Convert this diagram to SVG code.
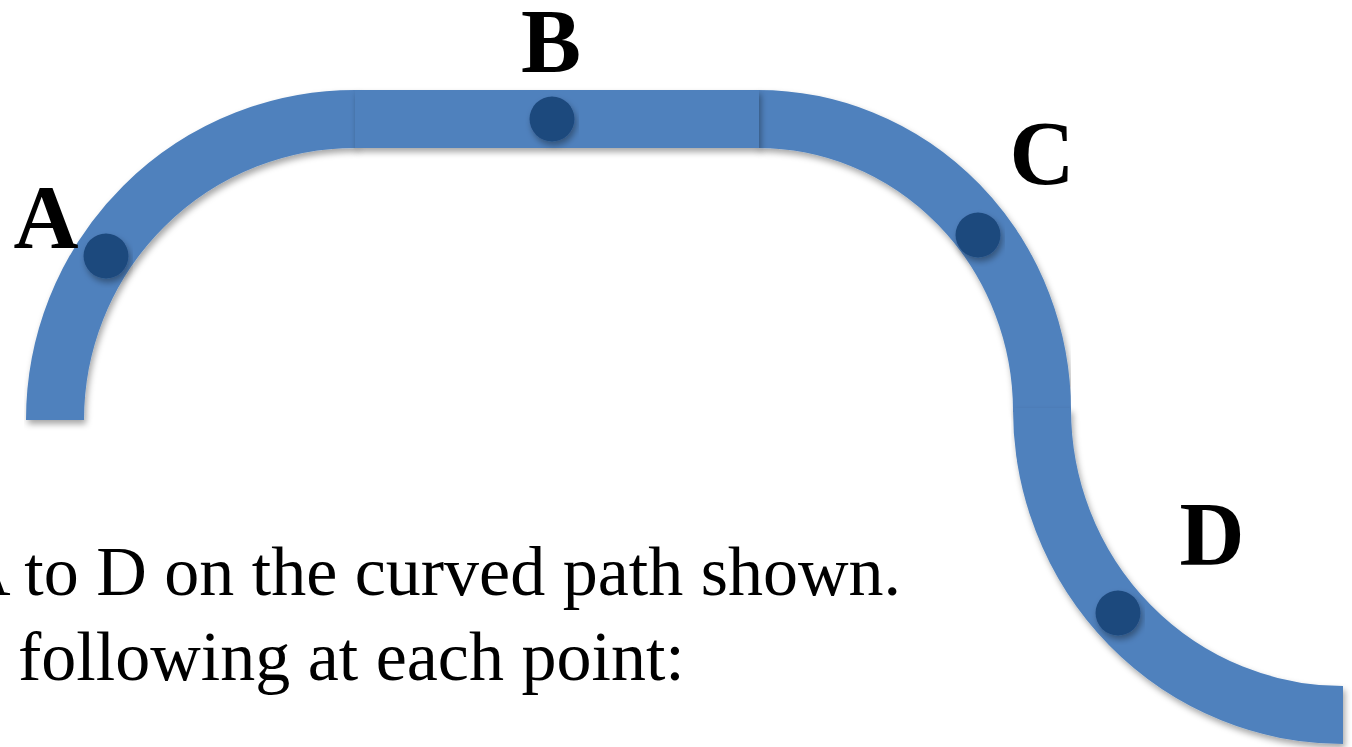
<svg xmlns="http://www.w3.org/2000/svg" width="1352" height="747" viewBox="0 0 1352 747">
  <defs>
    <filter id="sh" x="-10%" y="-20%" width="120%" height="140%">
      <feDropShadow dx="2" dy="4" stdDeviation="3" flood-color="#000" flood-opacity="0.35"/>
    </filter>
  </defs>
  <style>
    .track { fill: none; stroke: #4F81BD; stroke-width: 58; stroke-linecap: butt; filter: url(#sh); }
    .bar { fill: #4F81BD; filter: url(#sh); }
    .dot { fill: #1F497D; filter: url(#sh); }
    .lbl { font-family: "Liberation Serif", "Times New Roman", serif; font-weight: bold; font-size: 90px; fill: #000; text-anchor: middle; }
    .body { font-family: "Liberation Serif", "Times New Roman", serif; font-size: 70px; fill: #000; }
  </style>
  <rect width="1352" height="747" fill="#fff"/>
  <g id="connectors">
    <path id="arc-left" class="track" d="M55 420 A300 301 0 0 1 357 119"/>
    <path id="arc-right" class="track" d="M757 119 A284 292 0 0 1 1042 412"/>
    <path id="arc-lower" class="track" d="M1042 408 A301 306 0 0 0 1343 715"/>
    <rect id="straight" class="bar" x="355" y="90" width="404" height="58"/>
  </g>
  <g id="node-A">
    <circle class="dot" cx="106" cy="256" r="22.5"/>
    <text class="lbl" x="46" y="248">A</text>
  </g>
  <g id="node-B">
    <circle class="dot" cx="552" cy="119" r="22.5"/>
    <text class="lbl" x="551" y="72">B</text>
  </g>
  <g id="node-C">
    <circle class="dot" cx="978" cy="235" r="22.5"/>
    <text class="lbl" x="1042" y="184">C</text>
  </g>
  <g id="node-D">
    <circle class="dot" cx="1118" cy="613" r="22.5"/>
    <text class="lbl" x="1212" y="565">D</text>
  </g>
  <g id="caption">
    <text class="body" x="-40" y="595">A to D on the curved path shown.</text>
    <text class="body" x="18" y="680">following at each point:</text>
  </g>
</svg>
